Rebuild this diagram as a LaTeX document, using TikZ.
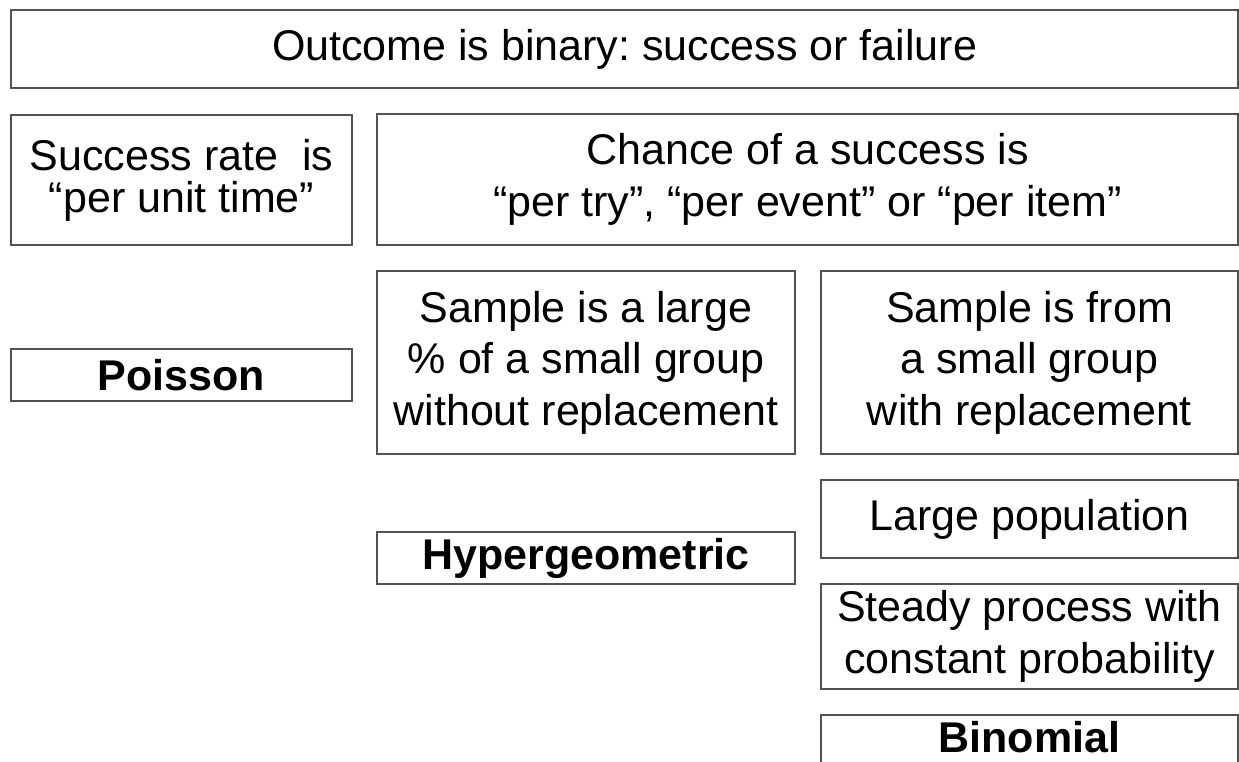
\documentclass[tikz,border=0pt]{standalone}
\usepackage{fontspec}
\setmainfont{Liberation Sans}
\frenchspacing
\begin{document}
\begin{tikzpicture}[x=1pt,y=-1pt,
  box/.style={draw=black!68, line width=1.6pt, rectangle, inner sep=2pt, align=center,
    font=\fontsize{43}{51.5}\selectfont, text=black},
  bbox/.style={box, font=\fontsize{43}{51.5}\selectfont\bfseries}]
\useasboundingbox (0,0) rectangle (1239,761);
\node[box, minimum width=1227, minimum height=78] (top) at (624.5,49) {Outcome is binary: success or failure};
\node[box, minimum width=341, minimum height=130, font=\fontsize{43}{42}\selectfont] (rate) at (181.5,180) {Success rate\ \ is\\\char"201C per unit time\char"201D};
\node[box, minimum width=861, minimum height=131] (chance) at (807.5,179.5) {Chance of a success is\\\char"201C per try\char"201D, \char"201C per event\char"201D\ or \char"201C per item\char"201D};
\node[bbox, minimum width=341, minimum height=52] (poisson) at (181.5,375) {Poisson};
\node[box, minimum width=418, minimum height=183] (sampleL) at (586,362.5) {Sample is a large\\\% of a small group\\without replacement};
\node[box, minimum width=417, minimum height=183] (sampleR) at (1029.5,362.5) {Sample is from\\a small group\\with replacement};
\node[box, minimum width=417, minimum height=78] (large) at (1029.5,519) {Large population};
\node[bbox, minimum width=418, minimum height=52] (hyper) at (586,558) {Hypergeometric};
\node[box, minimum width=417, minimum height=105] (steady) at (1029.5,636.5) {Steady process with\\constant probability};
\node[bbox, minimum width=417, inner sep=0pt, text height=37pt, text depth=60pt] (binom) at (1029.5,763.5) {Binomial};
\end{tikzpicture}
\end{document}
